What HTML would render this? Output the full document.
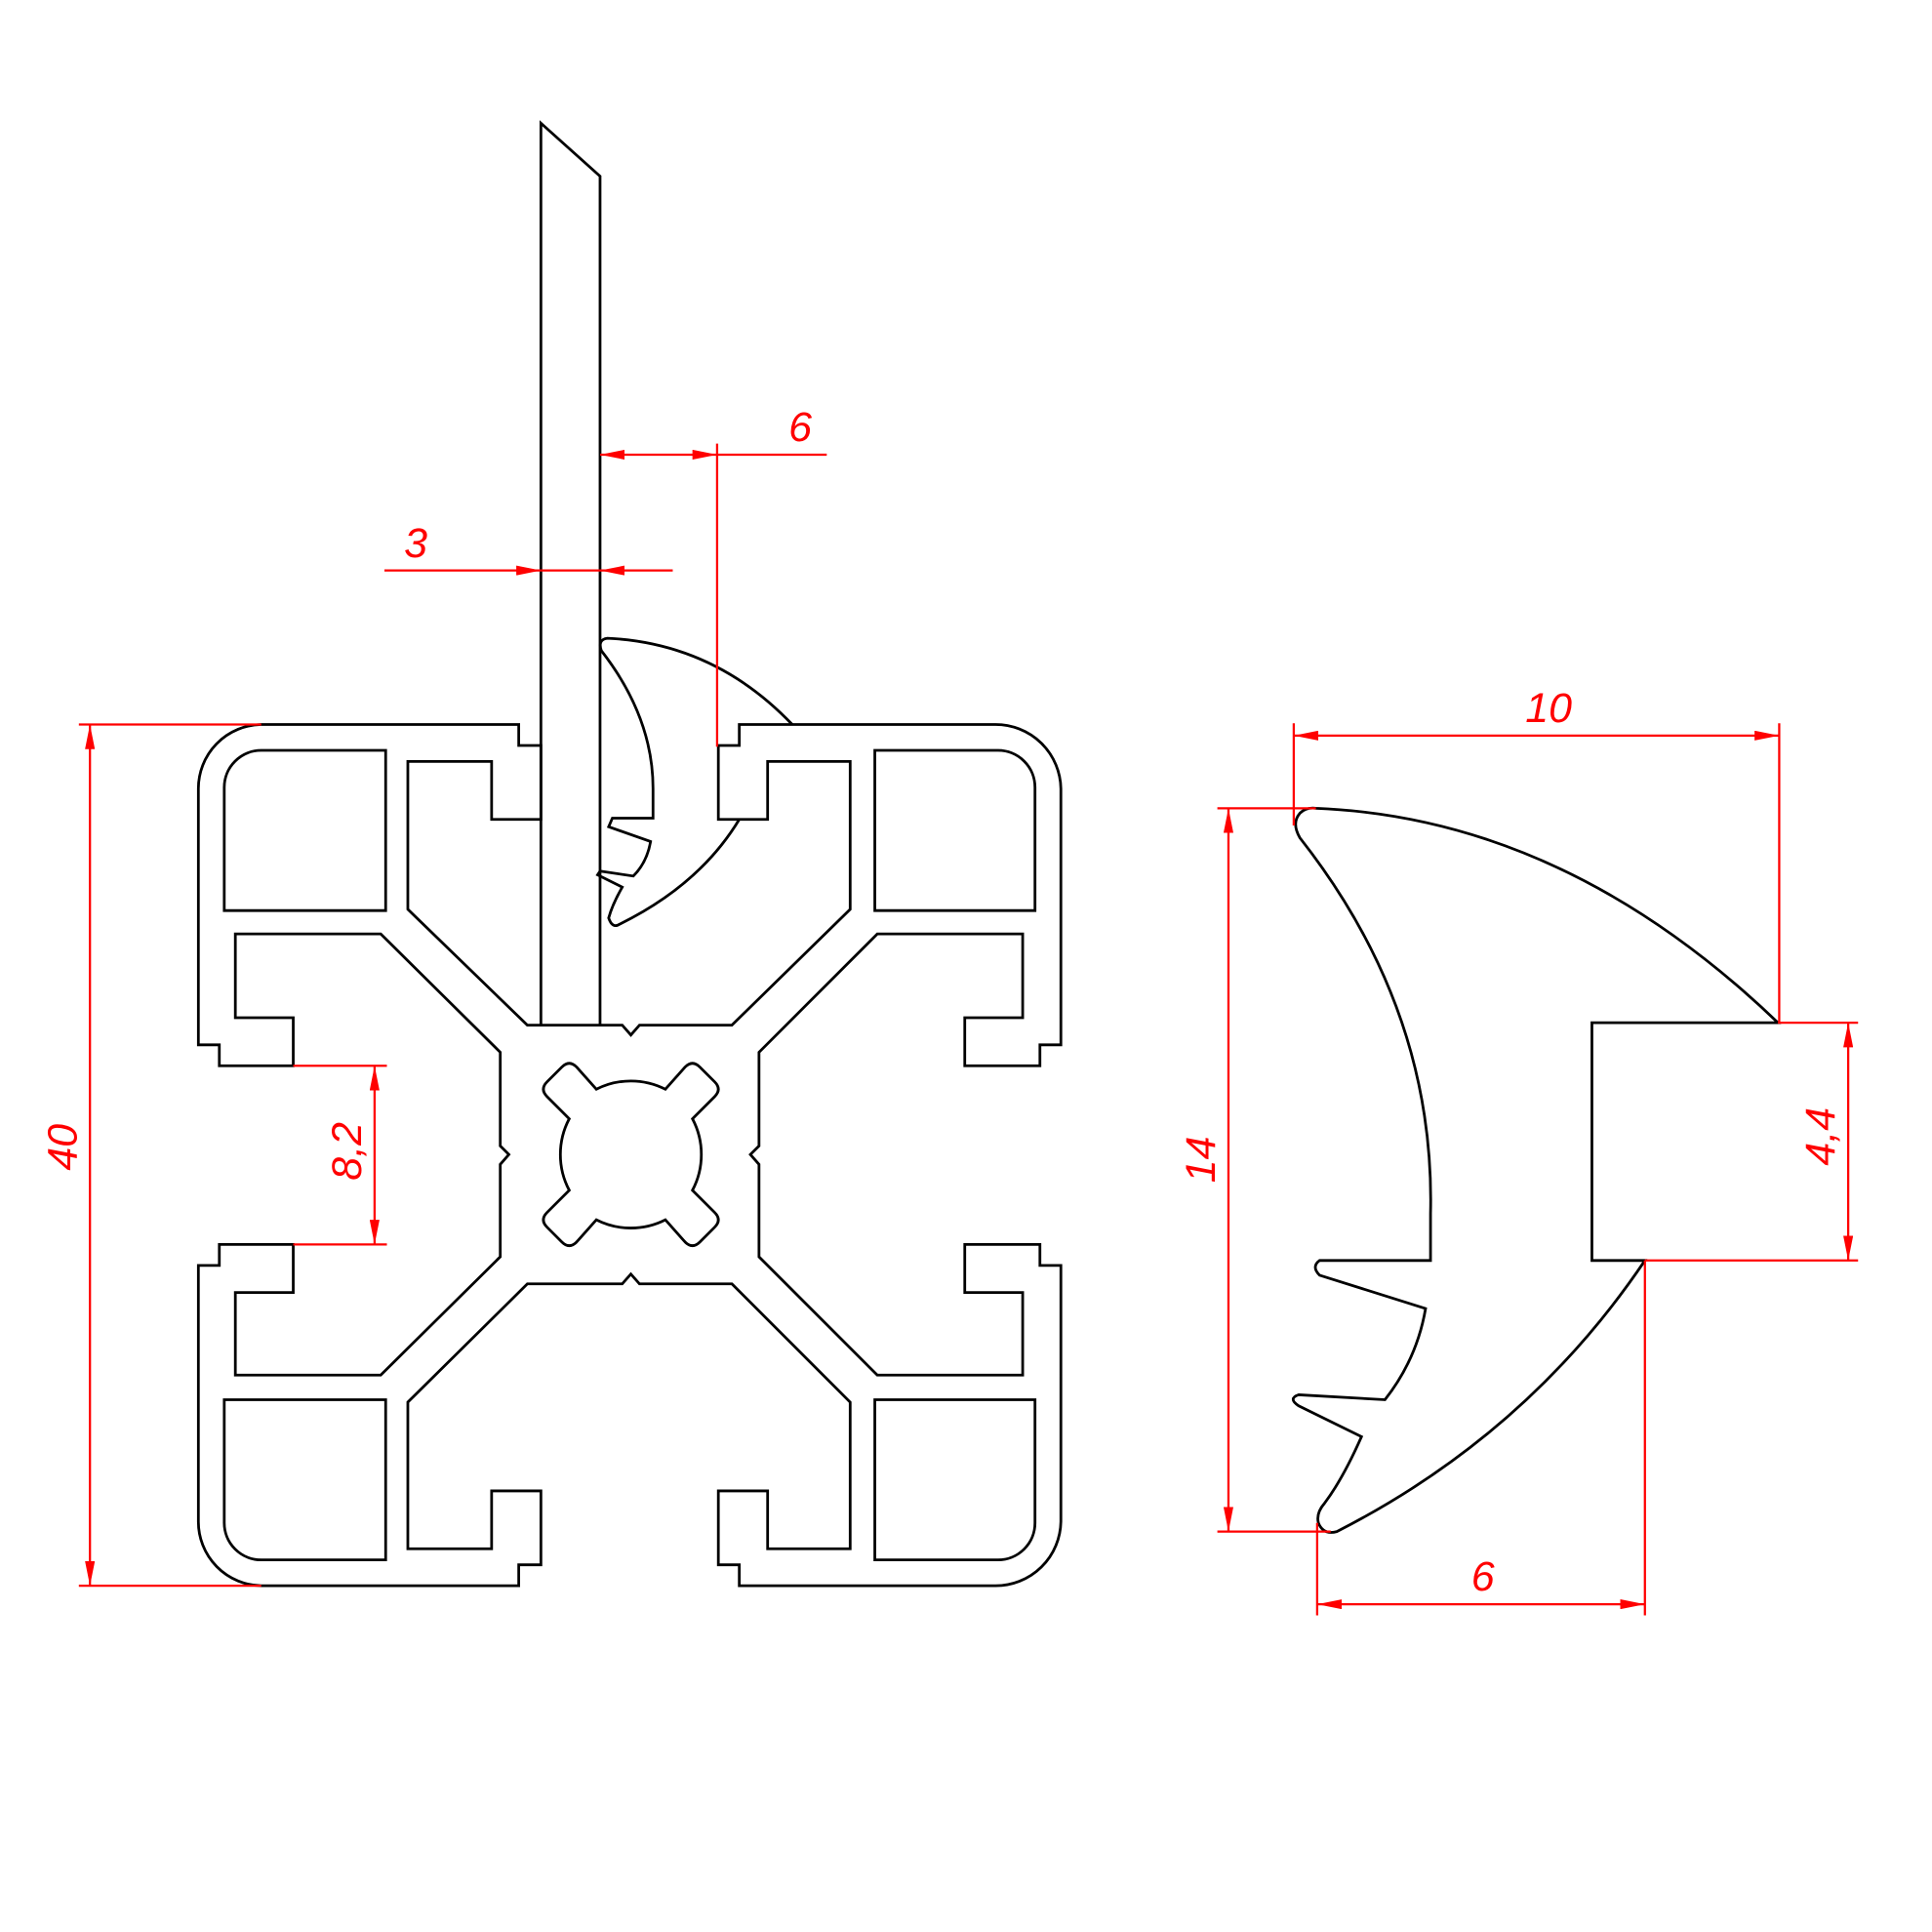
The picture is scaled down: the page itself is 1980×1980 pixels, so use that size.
<!DOCTYPE html>
<html><head><meta charset="utf-8"><style>html,body{margin:0;padding:0;background:#fff}svg{display:block}</style></head>
<body>
<svg width="1980" height="1980" viewBox="0 0 1568 1568" xmlns="http://www.w3.org/2000/svg">
<defs>
<marker id="a" viewBox="0 0 20 8" refX="20" refY="4" markerWidth="20" markerHeight="8" markerUnits="userSpaceOnUse" orient="auto-start-reverse"><path d="M0,0 L20,4 L0,8 Z" fill="red"/></marker>
</defs>
<g fill="none" stroke="#000" stroke-width="2.2" stroke-linejoin="miter">
<path d="M212,588 L421,588 L421,605 L439,605 L439,665 L399,665 L399,618 L331,618 L331,738 L428,832 L505,832 L512,840 L519,832 L594,832 L690,738 L690,618 L623,618 L623,665 L583,665 L583,605 L600,605 L600,588 L808,588 A53,53 0 0 1 861,640 L861,848 L844,848 L844,865 L783,865 L783,826 L830,826 L830,758 L712,758 L616,854 L616,930 L609,937 L616,945 L616,1020 L712,1116 L830,1116 L830,1049 L783,1049 L783,1010 L844,1010 L844,1027 L861,1027 L861,1235 A53,53 0 0 1 808,1287 L600,1287 L600,1270 L583,1270 L583,1210 L623,1210 L623,1257 L690,1257 L690,1138 L594,1042 L519,1042 L512,1034 L505,1042 L428,1042 L331,1138 L331,1257 L399,1257 L399,1210 L439,1210 L439,1270 L421,1270 L421,1287 L212,1287 A52,52 0 0 1 161,1235 L161,1027 L178,1027 L178,1010 L238,1010 L238,1049 L191,1049 L191,1116 L309,1116 L406,1020 L406,945 L413,937 L406,930 L406,854 L309,758 L191,758 L191,826 L238,826 L238,865 L178,865 L178,848 L161,848 L161,640 A52,52 0 0 1 212,588 Z"/>
<path d="M212,609 L313,609 L313,739 L182,739 L182,639 A30,30 0 0 1 212,609 Z"/>
<path d="M710,609 L810,609 A30,30 0 0 1 840,639 L840,739 L710,739 Z"/>
<path d="M182,1136 L313,1136 L313,1266 L212,1266 A30,30 0 0 1 182,1236 Z"/>
<path d="M710,1136 L840,1136 L840,1236 A30,30 0 0 1 810,1266 L710,1266 Z"/>
<path d="M484,884 A62,62 0 0 1 540,884 L556,866 Q562,860 568,866 L580,878 Q586,884 580,890 L562,908 A62,62 0 0 1 562,966 L580,984 Q586,990 580,996 L568,1008 Q562,1014 556,1008 L540,990 A62,62 0 0 1 484,990 L468,1008 Q462,1014 456,1008 L444,996 Q438,990 444,984 L462,966 A62,62 0 0 1 462,908 L444,890 Q438,884 444,878 L456,866 Q462,860 468,866 Z"/>
<path d="M439,832 L439,100 L487,143 L487,832"/>
<path d="M643,588 Q580,522 493,518 Q485,519 488,528 Q530,582 530,640 L530,664 L497,664 L494,671 L528,683 Q525,700 514,711 L487,707 L485,710 L505,720 Q497,734 494,745 Q497,754 503,750 Q568,718 600,665"/>
<path d="M1068,656 Q1270,664 1443,830 L1292,830 L1292,1023 L1335,1023 Q1240,1164 1085,1243 Q1074,1246 1070,1236 Q1068,1228 1075,1220 Q1090,1200 1105,1166 L1054,1141 Q1045,1135 1054,1132 L1124,1136 Q1150,1103 1157,1062 L1071,1035 Q1064,1028 1071,1023 L1161,1023 L1161,985 Q1165,820 1055,680 Q1048,668 1055,660 Q1060,655 1068,656 Z"/>
</g>
<g stroke="red" stroke-width="1.8" fill="none">
<line x1="312" y1="463" x2="439" y2="463" marker-end="url(#a)"/>
<line x1="546" y1="463" x2="487" y2="463" marker-end="url(#a)"/>
<line x1="439" y1="463" x2="487" y2="463"/>
<line x1="487" y1="369" x2="582" y2="369" marker-start="url(#a)" marker-end="url(#a)"/>
<line x1="582" y1="369" x2="671" y2="369"/>
<line x1="582" y1="360" x2="582" y2="606"/>
<line x1="64" y1="588" x2="212" y2="588"/>
<line x1="64" y1="1287" x2="212" y2="1287"/>
<line x1="73" y1="588" x2="73" y2="1287" marker-start="url(#a)" marker-end="url(#a)"/>
<line x1="238" y1="865" x2="314" y2="865"/>
<line x1="238" y1="1010" x2="314" y2="1010"/>
<line x1="304" y1="865" x2="304" y2="1010" marker-start="url(#a)" marker-end="url(#a)"/>
<line x1="1050" y1="587" x2="1050" y2="670"/>
<line x1="1444" y1="587" x2="1444" y2="830"/>
<line x1="1050" y1="597" x2="1444" y2="597" marker-start="url(#a)" marker-end="url(#a)"/>
<line x1="988" y1="656" x2="1068" y2="656"/>
<line x1="988" y1="1243" x2="1080" y2="1243"/>
<line x1="997" y1="656" x2="997" y2="1243" marker-start="url(#a)" marker-end="url(#a)"/>
<line x1="1443" y1="830" x2="1508" y2="830"/>
<line x1="1335" y1="1023" x2="1508" y2="1023"/>
<line x1="1500" y1="830" x2="1500" y2="1023" marker-start="url(#a)" marker-end="url(#a)"/>
<line x1="1069" y1="1236" x2="1069" y2="1311"/>
<line x1="1335" y1="1023" x2="1335" y2="1311"/>
<line x1="1069" y1="1302" x2="1335" y2="1302" marker-start="url(#a)" marker-end="url(#a)"/>
</g>
<g fill="red" font-family="Liberation Sans, sans-serif" font-style="italic" font-size="34">
<text x="328" y="452">3</text>
<text x="640" y="358">6</text>
<text x="1238" y="586">10</text>
<text x="1194" y="1291">6</text>
<text transform="translate(62,950) rotate(-90)">40</text>
<text transform="translate(293,958) rotate(-90)">8,2</text>
<text transform="translate(986,960) rotate(-90)">14</text>
<text transform="translate(1489,946) rotate(-90)">4,4</text>
</g>
</svg>
</body></html>
